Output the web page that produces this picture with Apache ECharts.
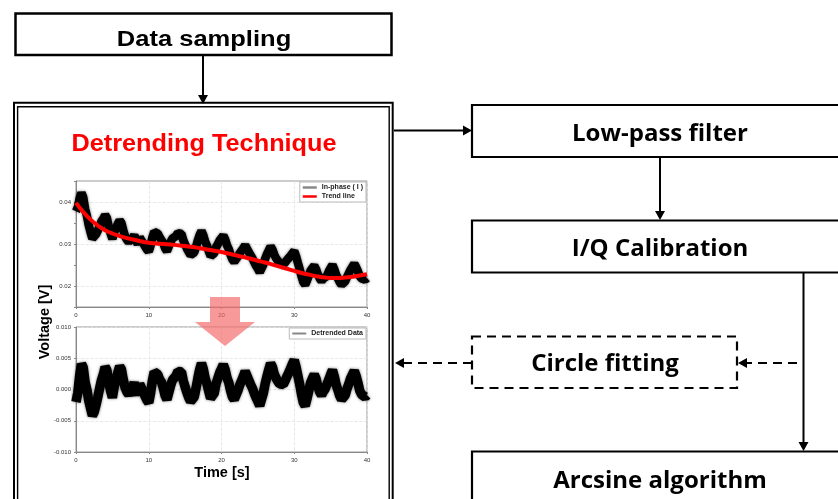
<!DOCTYPE html>
<html><head><meta charset="utf-8">
<script src="https://cdn.jsdelivr.net/npm/echarts@6/dist/echarts.min.js"></script>
<style>html,body{margin:0;padding:0;background:#fff}#c{width:838px;height:499px}</style>
</head><body><div id="c"></div>
<script>
// ---------------- data ----------------
const sampleStep = 0.25; // seconds between samples
const inPhase = [
  0.0378,0.0387,0.0409,0.0422,0.0411,0.0384,0.0367,0.0345,
  0.0328,0.0313,0.0315,0.0323,0.0332,0.0343,0.0354,0.0360,
  0.0369,0.0362,0.0341,0.0325,0.0312,0.0328,0.0338,0.0348,
  0.0356,0.0350,0.0333,0.0318,0.0310,0.0305,0.0302,0.0314,
  0.0321,0.0309,0.0299,0.0316,0.0318,0.0301,0.0294,0.0287,
  0.0282,0.0296,0.0316,0.0329,0.0332,0.0325,0.0316,0.0312,
  0.0302,0.0290,0.0283,0.0294,0.0305,0.0313,0.0316,0.0319,
  0.0326,0.0322,0.0324,0.0309,0.0299,0.0289,0.0281,0.0274,
  0.0271,0.0280,0.0293,0.0309,0.0322,0.0331,0.0321,0.0306,
  0.0296,0.0283,0.0271,0.0268,0.0278,0.0292,0.0300,0.0309,
  0.0314,0.0320,0.0311,0.0297,0.0288,0.0274,0.0263,0.0258,
  0.0260,0.0270,0.0278,0.0284,0.0290,0.0297,0.0293,0.0281,
  0.0273,0.0266,0.0257,0.0248,0.0241,0.0233,0.0235,0.0251,
  0.0265,0.0276,0.0285,0.0294,0.0287,0.0275,0.0266,0.0260,
  0.0255,0.0251,0.0251,0.0256,0.0262,0.0267,0.0272,0.0278,
  0.0283,0.0271,0.0255,0.0240,0.0223,0.0209,0.0203,0.0213,
  0.0225,0.0237,0.0243,0.0248,0.0240,0.0227,0.0218,0.0212,
  0.0218,0.0221,0.0224,0.0235,0.0243,0.0250,0.0240,0.0227,
  0.0218,0.0209,0.0203,0.0202,0.0211,0.0221,0.0230,0.0239,
  0.0246,0.0253,0.0245,0.0235,0.0223,0.0218,0.0220,0.0215,
  0.0219
];
const trendTimes = [0,1,2,3,4,5,6,7,8,9,10,11,12,13,14,15,16,17,18,19,20,
  21,22,23,24,25,26,27,28,29,30,31,32,33,34,35,36,37,38,39,40];
const trendValues = [
  0.0398,0.0376,0.0358,0.0344,0.0333,0.0325,0.0319,0.0314,0.0310,0.0306,
  0.0303,0.0301,0.0300,0.0299,0.0297,0.0295,0.0293,0.0290,0.0287,0.0284,
  0.0281,0.0277,0.0273,0.0269,0.0265,0.0260,0.0256,0.0251,0.0246,0.0241,
  0.0236,0.0231,0.0227,0.0223,0.0221,0.0219,0.0219,0.0220,0.0222,0.0225,0.0228
];
const detrended = [
  -0.0020,-0.0005,0.0022,0.0041,0.0035,0.0012,0.0000,-0.0018,
  -0.0030,-0.0042,-0.0036,-0.0025,-0.0012,0.0002,0.0015,0.0024,
  0.0036,0.0031,0.0012,-0.0002,-0.0013,0.0004,0.0016,0.0027,
  0.0037,0.0032,0.0016,0.0003,-0.0004,-0.0008,-0.0010,0.0003,
  0.0011,0.0000,-0.0009,0.0009,0.0012,-0.0004,-0.0011,-0.0017,
  -0.0021,-0.0006,0.0014,0.0028,0.0031,0.0024,0.0016,0.0012,
  0.0002,-0.0010,-0.0016,-0.0005,0.0006,0.0015,0.0018,0.0022,
  0.0029,0.0026,0.0028,0.0014,0.0004,-0.0005,-0.0013,-0.0019,
  -0.0022,-0.0012,0.0002,0.0018,0.0032,0.0042,0.0033,0.0018,
  0.0009,-0.0003,-0.0014,-0.0017,-0.0006,0.0009,0.0018,0.0027,
  0.0033,0.0040,0.0032,0.0019,0.0011,-0.0002,-0.0012,-0.0016,
  -0.0013,-0.0002,0.0007,0.0014,0.0021,0.0029,0.0026,0.0015,
  0.0008,0.0002,-0.0006,-0.0013,-0.0019,-0.0026,-0.0023,-0.0006,
  0.0009,0.0021,0.0032,0.0042,0.0036,0.0025,0.0018,0.0013,
  0.0009,0.0006,0.0008,0.0014,0.0021,0.0027,0.0034,0.0041,
  0.0047,0.0036,0.0022,0.0008,-0.0008,-0.0021,-0.0026,-0.0015,
  -0.0002,0.0011,0.0018,0.0024,0.0017,0.0005,-0.0004,-0.0009,
  -0.0003,0.0001,0.0004,0.0016,0.0024,0.0031,0.0021,0.0008,
  -0.0001,-0.0010,-0.0016,-0.0018,-0.0009,0.0001,0.0009,0.0018,
  0.0024,0.0030,0.0022,0.0011,-0.0002,-0.0008,-0.0006,-0.0012,
  -0.0009
];
const topMajorTicks = [0.02, 0.03, 0.04];
const seriesNames = ['In-phase ( I )', 'Trend line', 'Detrended Data'];
const boxLabels = ['Data sampling','Detrending Technique','Low-pass filter','I/Q Calibration','Circle fitting','Arcsine algorithm'];
const axisTitles = ['Voltage [V]','Time [s]'];

// ---------------- build ----------------
const pairs = arr => arr.map((v, i) => [i * sampleStep, v]);
const trendPairs = trendTimes.map((t, i) => [t, trendValues[i]]);

const ARIAL = 'Liberation Sans, Arial, sans-serif';
const RIGHTF = '"Open Sans", "Noto Sans", sans-serif';
const tickFont = {fontSize: 6, color: '#333', fontFamily: ARIAL};
const GRIDC = '#e2e2e2';

function xAxisCfg(gi){
  return {type:'value', gridIndex:gi, min:0, max:40, interval:10,
    axisLine:{show:true, onZero:false, lineStyle:{color:'#888', width:1}},
    axisTick:{show:true, length:2, lineStyle:{color:'#888'}},
    axisLabel:Object.assign({margin:5}, tickFont),
    splitLine:{show:true, lineStyle:{color:GRIDC, type:'dashed', width:0.8}}};
}

const chart = echarts.init(document.getElementById('c'), null, {renderer:'canvas'});
const arrowHead = (x, y, dir) => {
  const s = 5, L = 9;
  let pts;
  if (dir === 'down') pts = [[x - s, y - L], [x + s, y - L], [x, y]];
  else if (dir === 'right') pts = [[x - L, y - s], [x - L, y + s], [x, y]];
  else pts = [[x + L, y - s], [x + L, y + s], [x, y]];
  return {type:'polygon', shape:{points:pts}, style:{fill:'#000'}, z:50};
};
const rect = (x, y, w, h, lw, dash) => ({type:'rect', shape:{x, y, width:w, height:h},
  style:{fill:'none', stroke:'#000', lineWidth:lw, lineDash: dash || null}, z:40});
const line = (x1, y1, x2, y2, lw, dash) => ({type:'line', shape:{x1, y1, x2, y2},
  style:{stroke:'#000', lineWidth:lw, lineDash: dash || null}, z:40});
const text = (x, y, t, font, fill, extra) => Object.assign({type:'text', x, y,
  style:{text:t, font, fill: fill || '#000', align:'center', verticalAlign:'middle'}, z:60}, extra || {});

const graphics = [
  rect(15.5, 13.5, 376, 41.5, 2.5),
  text(204, 39.5, boxLabels[0], 'bold 22px ' + ARIAL, '#000', {scaleX:1.16}),
  line(203, 55, 203, 96, 2),
  arrowHead(203, 104, 'down'),
  rect(14, 102.7, 378.7, 420, 2),
  rect(17.6, 106.8, 371.6, 420, 1.4),
  text(204, 144.5, boxLabels[1], 'bold 23px ' + ARIAL, '#ff0000', {scaleX:1.1}),
  line(394, 130.5, 464, 130.5, 2),
  arrowHead(472, 130.5, 'right'),
  rect(472, 105, 400, 52, 2.2),
  text(660, 134, boxLabels[2], 'bold 24px ' + RIGHTF),
  line(660, 157, 660, 211, 2),
  arrowHead(660, 220, 'down'),
  rect(472, 220.5, 400, 52, 2.2),
  text(660, 249.5, boxLabels[3], 'bold 24px ' + RIGHTF),
  line(803.5, 272.5, 803.5, 442, 2),
  arrowHead(803.5, 451, 'down'),
  rect(472, 451.5, 400, 80, 2.2),
  text(660, 481, boxLabels[5], 'bold 24px ' + RIGHTF),
  rect(472, 336.5, 265, 51.5, 2.2, [9, 6]),
  text(605, 364.5, boxLabels[4], 'bold 24px ' + RIGHTF),
  line(797, 363, 746, 363, 2, [9, 6]),
  arrowHead(738, 363, 'left'),
  line(472, 363, 404, 363, 2, [9, 6]),
  arrowHead(395, 363, 'left'),
  text(45, 322, axisTitles[0], 'bold 14.5px ' + ARIAL, '#000', {rotation:Math.PI/2}),
  text(222, 473, axisTitles[1], 'bold 14.5px ' + ARIAL),
  {type:'polygon', z:80, shape:{points:[[210,297],[240,297],[240,322],[255,322],[225,346],[195,322],[210,322]]},
   style:{fill:'rgba(245,105,105,0.68)'}}
];

const legendText = {fontSize:7, fontWeight:'bold', fontFamily:ARIAL, color:'#222'};
const option = {
  animation:false,
  backgroundColor:'#fff',
  grid:[
    {left:76, top:181, width:291, height:126, show:true, borderColor:'#999', borderWidth:1, backgroundColor:'transparent'},
    {left:76, top:327, width:291, height:125, show:true, borderColor:'#999', borderWidth:1, backgroundColor:'transparent'}
  ],
  xAxis:[xAxisCfg(0), xAxisCfg(1)],
  yAxis:[
    {type:'value', gridIndex:0, min:0.015, max:0.045, interval:0.005,
      axisLine:{show:true, onZero:false, lineStyle:{color:'#888'}},
      axisTick:{show:true, length:2, lineStyle:{color:'#888'}},
      axisLabel:Object.assign({margin:5, formatter:v => topMajorTicks.some(m => Math.abs(m - v) < 1e-9) ? v.toFixed(2) : ''}, tickFont),
      splitLine:{show:true, lineStyle:{color:['rgba(0,0,0,0)', GRIDC], type:'dashed', width:0.8}}},
    {type:'value', gridIndex:1, min:-0.01, max:0.01, interval:0.005,
      axisLine:{show:true, onZero:false, lineStyle:{color:'#888'}},
      axisTick:{show:true, length:2, lineStyle:{color:'#888'}},
      axisLabel:Object.assign({margin:5, formatter:v => v.toFixed(3)}, tickFont),
      splitLine:{show:true, lineStyle:{color:GRIDC, type:'dashed', width:0.8}}}
  ],
  legend:[
    {data:[{name:seriesNames[0], icon:'rect', itemStyle:{color:'#888'}},
           {name:seriesNames[1], icon:'rect', itemStyle:{color:'#ff0000'}}],
     orient:'vertical', right:472, top:182, itemGap:2, itemWidth:14, itemHeight:2.5,
     padding:[2,3], backgroundColor:'#fff', borderColor:'#bbb', borderWidth:1, textStyle:legendText},
    {data:[{name:seriesNames[2], icon:'rect', itemStyle:{color:'#888'}}],
     orient:'vertical', right:472, top:328, itemGap:2, itemWidth:14, itemHeight:2,
     padding:[2,3], backgroundColor:'#fff', borderColor:'#bbb', borderWidth:1, textStyle:legendText}
  ],
  series:[
    {type:'line', name:seriesNames[0], xAxisIndex:0, yAxisIndex:0, data:pairs(inPhase),
     showSymbol:false, symbol:'none', z:3, color:'#000',
     lineStyle:{color:'#000', width:8.5, join:'bevel', shadowColor:'rgba(0,0,0,0.55)', shadowBlur:3}},
    {type:'line', name:seriesNames[1], xAxisIndex:0, yAxisIndex:0, data:trendPairs,
     smooth:true, showSymbol:false, symbol:'none', z:4, color:'#ff0000',
     lineStyle:{color:'#ff0000', width:4}},
    {type:'line', name:seriesNames[2], xAxisIndex:1, yAxisIndex:1, data:pairs(detrended),
     showSymbol:false, symbol:'none', z:3, color:'#000',
     lineStyle:{color:'#000', width:9.5, join:'bevel', shadowColor:'rgba(0,0,0,0.55)', shadowBlur:3}}
  ],
  graphic:graphics
};
chart.setOption(option);
</script></body></html>
